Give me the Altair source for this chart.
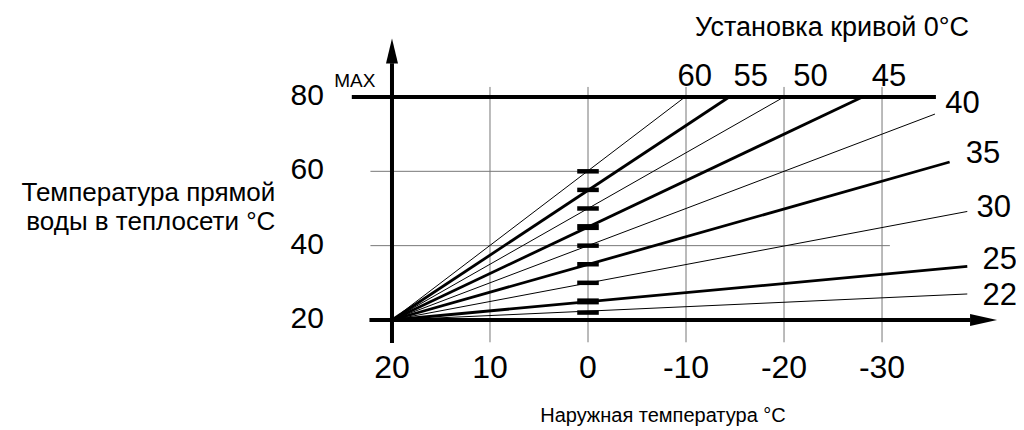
import altair as alt
import pandas as pd

# ---- data ----
settings = [22, 25, 30, 35, 40, 45, 50, 55, 60]          # curve setting at 0 °C outside
curve_end_x = [-38.7, -38.7, -38.7, -36.9, -35.4, -28.0, -20.0, -14.4, -9.9]
curve_end_y = [27.0, 34.4, 49.2, 62.5, 75.4, 80.0, 80.0, 80.0, 80.0]
bold_settings = [25, 35, 45, 55]
label_x = [-42.0, -42.0, -41.4, -40.3, -38.2, -30.7, -22.7, -16.6, -10.9]
label_y = [24.0, 33.7, 47.7, 62.2, 75.7, 83.0, 83.0, 83.0, 83.0]
x_ticks = [20, 10, 0, -10, -20, -30]
y_ticks = [20, 40, 60, 80]
grid_x = [10, 0, -10, -20, -30]
grid_y = [40, 60]
max_value = 80
origin = 20

FONT = "Liberation Sans"
XS = alt.Scale(domain=[-43.67, 59.18], reverse=True, nice=False, zero=False)
YS = alt.Scale(domain=[-9.06, 103.94], nice=False, zero=False)


def X(f):
    return alt.X(f, type="quantitative", scale=XS, axis=None)


def Y(f):
    return alt.Y(f, type="quantitative", scale=YS, axis=None)


# ---- tables ----
curves = pd.DataFrame({
    "s": settings,
    "x0": [origin] * len(settings),
    "y0": [origin] * len(settings),
    "x1": curve_end_x,
    "y1": curve_end_y,
    "bold": [s in bold_settings for s in settings],
    "lx": label_x,
    "ly": label_y,
    "lab": [str(s) for s in settings],
})
vgrid = pd.DataFrame({"x": grid_x, "y0": 14.0, "y1": 82.7})
hgrid = pd.DataFrame({"y": grid_y, "x0": 22.2, "x1": -30.8})
maxline = pd.DataFrame({"y": [max_value], "x0": [24.1], "x1": [-35.5]})
haxis = pd.DataFrame({"y": [origin], "x0": [22.3], "x1": [-39.0]})
vaxis = pd.DataFrame({"x": [origin], "y0": [13.8], "y1": [89.1]})
bars = pd.DataFrame({"y": settings, "x0": 1.1, "x1": -1.1,
                     "bold": [s in (25, 45) for s in settings]})
xt = pd.DataFrame({"x": x_ticks, "y": origin, "t": [str(v) for v in x_ticks]})
yt = pd.DataFrame({"y": y_ticks, "x": origin, "t": [str(v) for v in y_ticks]})

layers = []
layers.append(alt.Chart(vgrid).mark_rule(color="#777777", strokeWidth=1).encode(
    x=X("x"), y=Y("y0"), y2="y1"))
layers.append(alt.Chart(hgrid).mark_rule(color="#777777", strokeWidth=1).encode(
    x=X("x0"), x2="x1", y=Y("y")))
layers.append(alt.Chart(maxline).mark_rule(color="black", strokeWidth=4).encode(
    x=X("x0"), x2="x1", y=Y("y")))
layers.append(alt.Chart(curves).transform_filter("!datum.bold").mark_rule(
    color="black", strokeWidth=1).encode(x=X("x0"), x2="x1", y=Y("y0"), y2="y1"))
layers.append(alt.Chart(curves).transform_filter("datum.bold").mark_rule(
    color="black", strokeWidth=2.8).encode(x=X("x0"), x2="x1", y=Y("y0"), y2="y1"))
layers.append(alt.Chart(bars).transform_filter("!datum.bold").mark_rule(
    color="black", strokeWidth=4.5).encode(x=X("x0"), x2="x1", y=Y("y")))
layers.append(alt.Chart(bars).transform_filter("datum.bold").mark_rule(
    color="black", strokeWidth=6).encode(x=X("x0"), x2="x1", y=Y("y")))
layers.append(alt.Chart(haxis).mark_rule(color="black", strokeWidth=4).encode(
    x=X("x0"), x2="x1", y=Y("y")))
layers.append(alt.Chart(vaxis).mark_rule(color="black", strokeWidth=4).encode(
    x=X("x"), y=Y("y0"), y2="y1"))
# arrow heads
layers.append(alt.Chart(pd.DataFrame({"x": [origin], "y": [92.4]})).mark_point(
    shape="M0,-1L0.48,1L-0.48,1Z", size=625, filled=True, color="black",
    opacity=1, strokeWidth=0).encode(x=X("x"), y=Y("y")))
layers.append(alt.Chart(pd.DataFrame({"x": [-40.36], "y": [origin]})).mark_point(
    shape="M1,0L-1,0.44L-1,-0.44Z", size=729, filled=True, color="black",
    opacity=1, strokeWidth=0).encode(x=X("x"), y=Y("y")))
# texts
layers.append(alt.Chart(curves).mark_text(
    font=FONT, fontSize=31, align="center", baseline="alphabetic", color="black").encode(
    x=X("lx"), y=Y("ly"), text="lab"))
layers.append(alt.Chart(xt).mark_text(
    font=FONT, fontSize=32, align="center", baseline="alphabetic", dy=58, color="black").encode(
    x=X("x"), y=Y("y"), text="t"))
layers.append(alt.Chart(yt).mark_text(
    font=FONT, fontSize=30, align="right", baseline="alphabetic", dx=-68, dy=8, color="black").encode(
    x=X("x"), y=Y("y"), text="t"))
layers.append(alt.Chart(pd.DataFrame({"x": [23.8], "y": [82.7], "t": ["MAX"]})).mark_text(
    font=FONT, fontSize=19, align="center", baseline="alphabetic", color="black").encode(
    x=X("x"), y=Y("y"), text="t"))
layers.append(alt.Chart(pd.DataFrame({"x": [-24.9], "y": [96.4], "t": ["Установка  кривой 0°C"]})).mark_text(
    font=FONT, fontSize=27, align="center", baseline="alphabetic", color="black").encode(
    x=X("x"), y=Y("y"), text="t"))
layers.append(alt.Chart(pd.DataFrame({"x": [31.9, 31.9], "y": [52.0, 44.2],
                                      "t": ["Температура прямой", "воды в теплосети °C"]})).mark_text(
    font=FONT, fontSize=26, align="right", baseline="alphabetic", color="black").encode(
    x=X("x"), y=Y("y"), text="t"))
layers.append(alt.Chart(pd.DataFrame({"x": [-7.65], "y": [-7.44], "t": ["Наружная температура °C"]})).mark_text(
    font=FONT, fontSize=20, align="center", baseline="alphabetic", color="black").encode(
    x=X("x"), y=Y("y"), text="t"))

chart = alt.layer(*layers).properties(
    width=1008, height=420, padding=0,
    autosize=alt.AutoSizeParams(type="none"),
    background="white",
).configure_view(stroke=None)

chart.save("out.html", embed_options={"renderer": "svg", "actions": False})
